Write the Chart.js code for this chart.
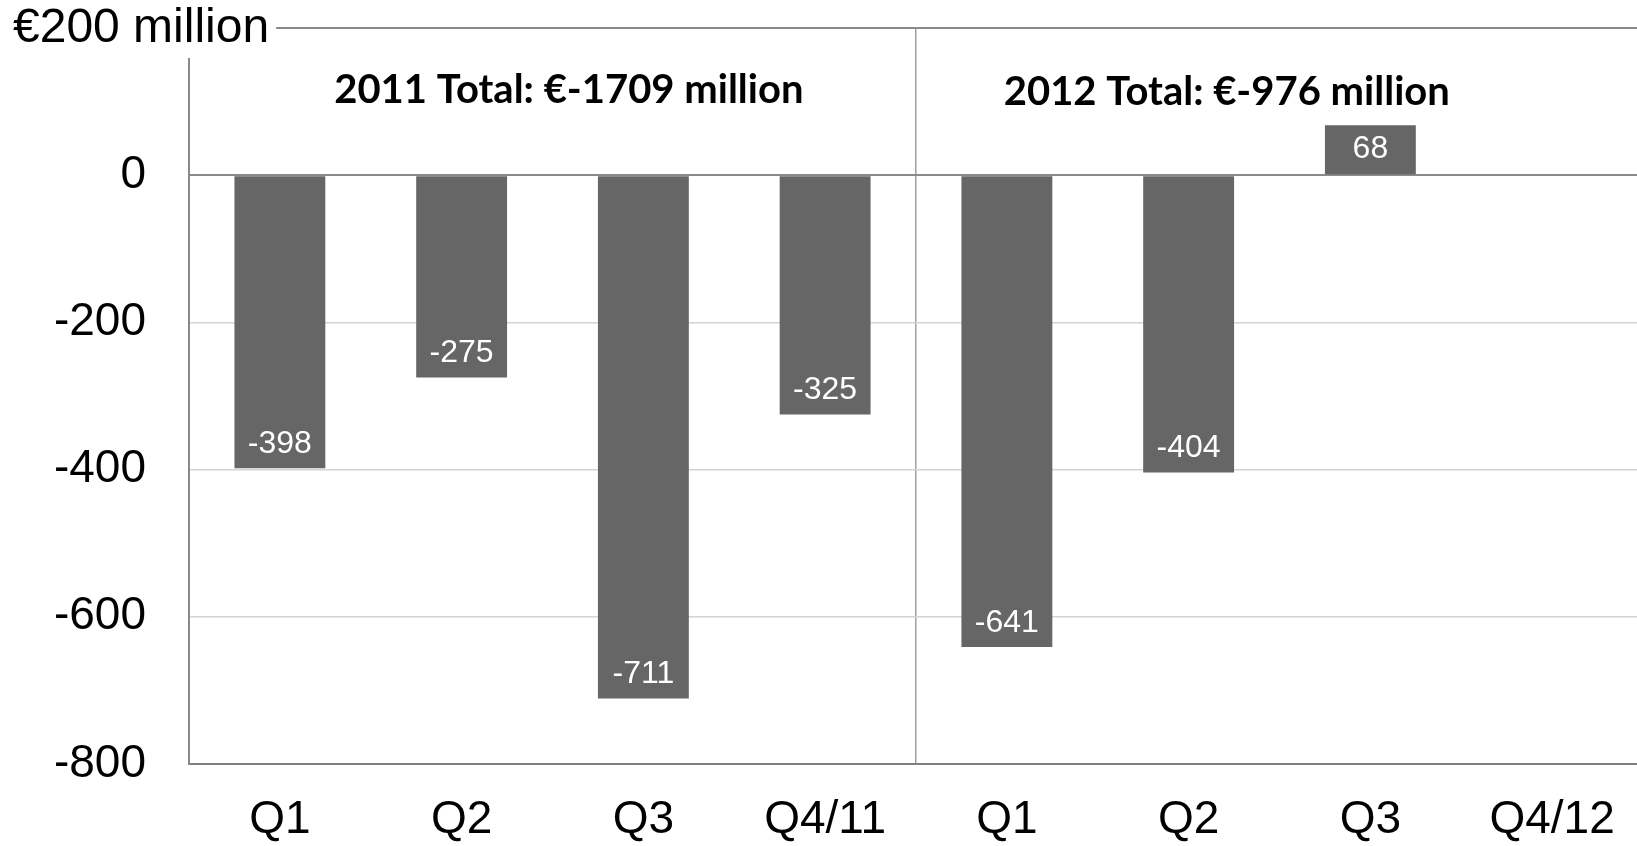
<!DOCTYPE html>
<html><head><meta charset="utf-8">
<script src="https://cdn.jsdelivr.net/npm/chart.js@4/dist/chart.umd.min.js"></script>
<style>html,body{margin:0;padding:0;background:#fff;overflow:hidden;width:1637px;height:846px}</style>
</head><body>
<canvas id="c" width="1643" height="846"></canvas>
<script>
const categories = ['Q1','Q2','Q3','Q4/11','Q1','Q2','Q3','Q4/12'];
const values = [-398,-275,-711,-325,-641,-404,68,null];
const yTicks = [200,0,-200,-400,-600,-800];
const topTickLabel = '€200 million';
const groupTitles = ['2011 Total: €-1709 million','2012 Total: €-976 million'];
const groupTitleAnchors = [1.59, 5.21];
const groupTitleValues = [115, 113];

const FONT = '"Liberation Sans", Arial, sans-serif';

const overlay = {
  id: 'overlay',
  afterDatasetsDraw(chart) {
    const {ctx, scales: {x, y}} = chart;
    const meta = chart.getDatasetMeta(0);
    ctx.save();
    ctx.font = '32px ' + FONT;
    ctx.fillStyle = '#ffffff';
    ctx.textAlign = 'center';
    ctx.textBaseline = 'middle';
    meta.data.forEach((bar, i) => {
      const v = values[i];
      if (v === null || v === undefined) return;
      const dir = v < 0 ? -1 : 1;
      ctx.fillText(String(v), bar.x, bar.y + dir * 24);
    });
    ctx.fillStyle = '#000000';
    ctx.font = 'bold 40px Lato, "Open Sans", sans-serif';
    groupTitles.forEach((t, i) => {
      ctx.fillText(t, x.getPixelForValue(groupTitleAnchors[i]), y.getPixelForValue(groupTitleValues[i]));
    });
    ctx.font = '48px ' + FONT;
    const w = ctx.measureText(topTickLabel).width;
    const py = y.getPixelForValue(yTicks[0]);
    ctx.fillStyle = '#ffffff';
    ctx.fillRect(0, 0, 13 + w + 7, 58);
    ctx.fillStyle = '#000000';
    ctx.textAlign = 'left';
    ctx.fillText(topTickLabel, 13, py + 1);
    ctx.restore();
  }
};

new Chart(document.getElementById('c'), {
  type: 'bar',
  data: {
    labels: categories,
    datasets: [{
      data: values,
      backgroundColor: '#666666',
      borderWidth: 0,
      barPercentage: 0.5,
      categoryPercentage: 1.0
    }]
  },
  options: {
    responsive: false,
    devicePixelRatio: 1,
    animation: false,
    layout: { padding: { top: 28, right: 0, left: 0, bottom: 0 } },
    plugins: { legend: { display: false }, tooltip: { enabled: false }, title: { display: false } },
    scales: {
      x: {
        grid: {
          offset: true,
          drawTicks: false,
          color: (c) => c.index === 4 ? '#a0a0a0' : 'rgba(0,0,0,0)',
          lineWidth: 1.5
        },
        border: { color: '#7f7f7f', width: 2 },
        ticks: { font: { size: 46, family: FONT }, color: '#000', padding: 29, maxRotation: 0, autoSkip: false },
        afterFit: (s) => { s.height = 82; s.paddingLeft = 0; s.paddingRight = 0; }
      },
      y: {
        min: -800,
        max: 200,
        afterBuildTicks: (s) => { s.ticks = yTicks.map(v => ({ value: v })); },
        grid: {
          drawTicks: false,
          color: (c) => (c.tick && (c.tick.value === 0 || c.tick.value === 200)) ? '#8a8a8a' : (c.tick && c.tick.value === -800 ? '#7f7f7f' : '#d4d4d4'),
          lineWidth: (c) => (c.tick && (c.tick.value === 0 || c.tick.value === 200)) ? 2 : 1.5
        },
        border: { color: '#8a8a8a', width: 2 },
        ticks: {
          font: { size: 46, family: FONT }, color: '#000', padding: 43,
          callback: (v) => v === 200 ? '' : String(v)
        },
        afterFit: (s) => { s.width = 189; s.paddingTop = 0; s.paddingBottom = 0; }
      }
    }
  },
  plugins: [overlay]
});
</script>
</body></html>
